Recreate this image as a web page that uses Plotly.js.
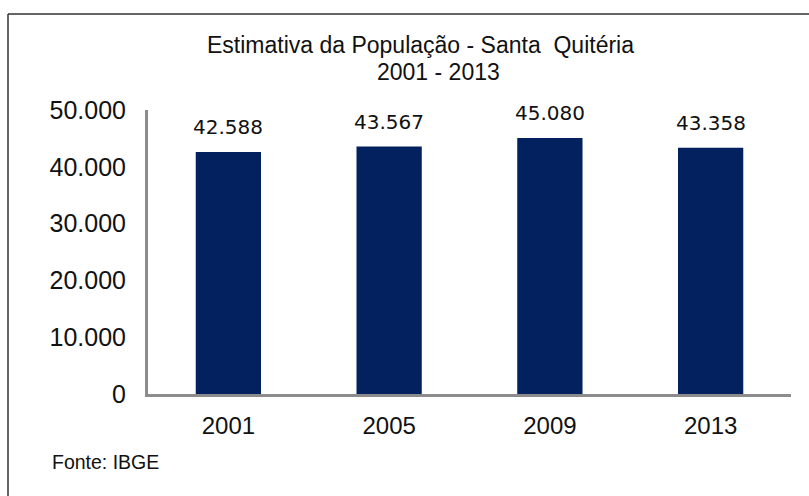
<!DOCTYPE html>
<html>
<head>
<meta charset="utf-8">
<script src="https://cdn.plot.ly/plotly-3.0.1.min.js"></script>
<style>html,body{margin:0;padding:0;background:#fff;}#chart{width:809px;height:496px;}</style>
</head>
<body>
<div id="chart"></div>
<script>
const categories = ["2001", "2005", "2009", "2013"];
const population = [42588, 43567, 45080, 43358];
const yTickVals = [0, 10000, 20000, 30000, 40000, 50000];
const titleLine1 = "Estimativa da População - Santa  Quitéria";
const titleLine2 = "2001 - 2013";
const sourceNote = "Fonte: IBGE";

const W = 809, H = 496;
const M = {l: 148, r: 18, t: 110, b: 102};
const pw = W - M.l - M.r, ph = H - M.t - M.b;
const px = x => (x - M.l) / pw;
const py = y => (H - M.b - y) / ph;

function fmt(v) { return String(v).replace(/\B(?=(\d{3})+(?!\d))/g, "."); }

const trace = {
  type: "bar",
  x: categories,
  y: population,
  marker: {color: "#03205f"},
  hoverinfo: "none"
};

const annotations = categories.map((c, i) => ({
  x: i, y: population[i], xref: "x", yref: "y",
  text: fmt(population[i]), showarrow: false,
  yanchor: "bottom", yshift: 11,
  font: {family: "DejaVu Sans", size: 20, color: "#111"}
}));

annotations.push({
  xref: "paper", yref: "paper", x: px(420), y: py(45),
  text: titleLine1, showarrow: false, xanchor: "center", yanchor: "middle",
  font: {family: "Liberation Sans, Arial", size: 23, color: "#111"}
});
annotations.push({
  xref: "paper", yref: "paper", x: px(438), y: py(72),
  text: titleLine2, showarrow: false, xanchor: "center", yanchor: "middle",
  font: {family: "Liberation Sans, Arial", size: 23, color: "#111"}
});
annotations.push({
  xref: "paper", yref: "paper", x: px(50), y: py(462),
  text: sourceNote, showarrow: false, xanchor: "left", yanchor: "middle",
  font: {family: "Liberation Sans, Arial", size: 19.5, color: "#111"}
});

const layout = {
  width: W, height: H,
  margin: M,
  paper_bgcolor: "#fff", plot_bgcolor: "#fff",
  separators: ",.",
  showlegend: false,
  bargap: 0.594,
  xaxis: {
    type: "category",
    range: [-0.5, categories.length - 0.5],
    showline: true, linecolor: "#8c8c8c", linewidth: 3,
    showgrid: false, zeroline: false, ticks: "",
    tickfont: {family: "Liberation Sans, Arial", size: 24, color: "#111"},
    ticklabelstandoff: 8
  },
  yaxis: {
    range: [0, 50000],
    tickvals: yTickVals,
    tickformat: ",d",
    showline: true, linecolor: "#8c8c8c", linewidth: 3,
    showgrid: false, zeroline: false, ticks: "",
    tickfont: {family: "Liberation Sans, Arial", size: 25, color: "#111"},
    ticklabelstandoff: 14
  },
  annotations: annotations,
  shapes: [
    {type: "line", xref: "paper", yref: "paper", x0: px(8), x1: px(809), y0: py(14), y1: py(14),
     line: {color: "#333", width: 1.5}},
    {type: "line", xref: "paper", yref: "paper", x0: px(8), x1: px(8), y0: py(14), y1: py(496),
     line: {color: "#333", width: 1.5}}
  ]
};

Plotly.newPlot("chart", [trace], layout, {displayModeBar: false, staticPlot: true});
</script>
</body>
</html>
